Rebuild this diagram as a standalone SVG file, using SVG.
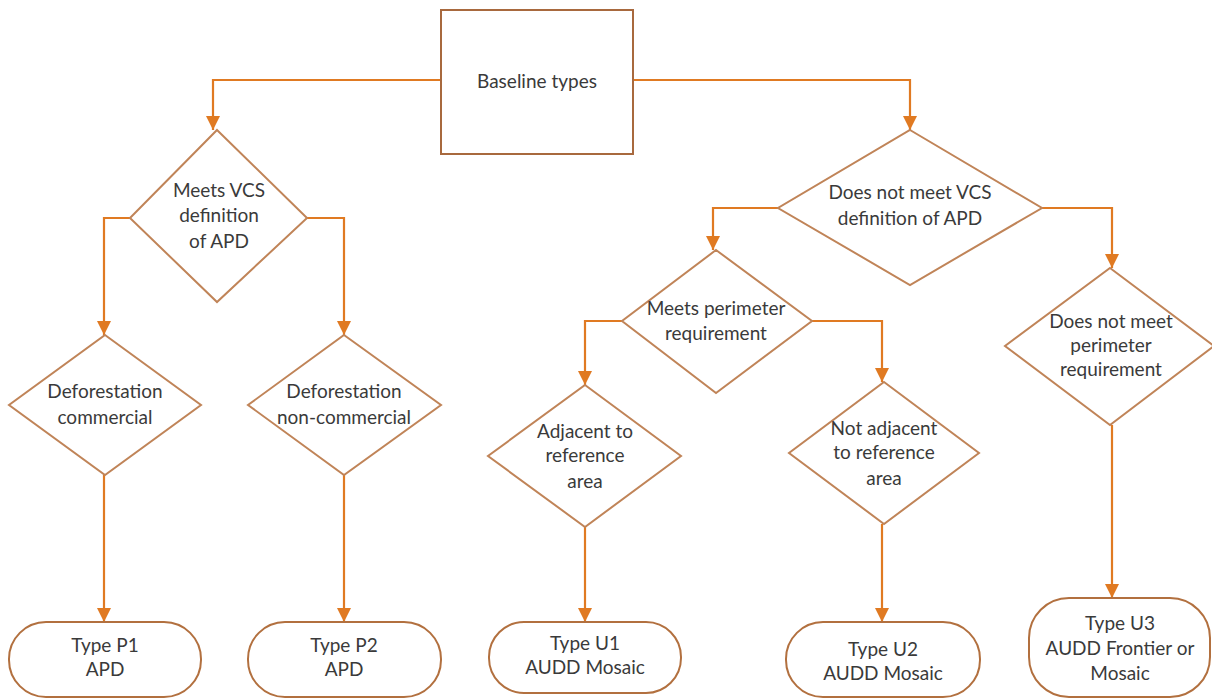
<svg xmlns="http://www.w3.org/2000/svg" width="1212" height="700" viewBox="0 0 1212 700">
<defs>
<marker id="arr" viewBox="0 0 14 14" refX="14" refY="7" markerWidth="14" markerHeight="14" markerUnits="userSpaceOnUse" orient="auto">
<path d="M0,0 L14,7 L0,14 Z" fill="#E07A22"/>
</marker>
</defs>
<style>
.shape{fill:#fff;stroke:#C08458;stroke-width:2}
.box{fill:#fff;stroke:#A8693E;stroke-width:2}
.term{fill:#fff;stroke:#B2703F;stroke-width:2}
.conn{fill:none;stroke:#E07A22;stroke-width:2.2;marker-end:url(#arr)}
text{font-family:Lato,"Liberation Sans",sans-serif;font-size:19px;fill:#3a3a3a;text-anchor:middle}
</style>
<rect width="1212" height="700" fill="#fff"/>
<g id="connectors">
<path class="conn" d="M441,80 H213 V130"/>
<path class="conn" d="M633,80 H910 V130"/>
<path class="conn" d="M130,218 H104 V335"/>
<path class="conn" d="M307,218 H344 V335"/>
<path class="conn" d="M104,475 V622"/>
<path class="conn" d="M344,475 V622"/>
<path class="conn" d="M778,208 H713 V250"/>
<path class="conn" d="M1042,208 H1112 V268"/>
<path class="conn" d="M622,321 H585 V385"/>
<path class="conn" d="M812,321 H882 V382"/>
<path class="conn" d="M585,527 V622"/>
<path class="conn" d="M882,524 V622"/>
<path class="conn" d="M1112,425 V598"/>
</g>
<g id="baseline">
<rect class="box" x="441" y="10" width="192" height="144"/>
<text x="537" y="88">Baseline types</text>
</g>
<g id="meets-vcs">
<polygon class="shape" points="217,130 307,218 217,302 130,218"/>
<text x="219" y="197">Meets VCS</text>
<text x="219" y="222">definition</text>
<text x="219" y="248">of APD</text>
</g>
<g id="not-meet-vcs">
<polygon class="shape" points="910,130 1042,208 910,285 778,208"/>
<text x="910" y="199">Does not meet VCS</text>
<text x="910" y="225">definition of APD</text>
</g>
<g id="def-commercial">
<polygon class="shape" points="105,335 201,405 105,475 9,405"/>
<text x="105" y="398">Deforestation</text>
<text x="105" y="424">commercial</text>
</g>
<g id="def-noncommercial">
<polygon class="shape" points="344,335 441,405 344,475 248,405"/>
<text x="344" y="398">Deforestation</text>
<text x="344" y="424">non-commercial</text>
</g>
<g id="meets-perimeter">
<polygon class="shape" points="716,250 812,321 716,393 622,321"/>
<text x="716" y="315">Meets perimeter</text>
<text x="716" y="340">requirement</text>
</g>
<g id="not-meet-perimeter">
<polygon class="shape" points="1110,268 1214,346 1110,425 1005,346"/>
<text x="1111" y="328">Does not meet</text>
<text x="1111" y="352">perimeter</text>
<text x="1111" y="376">requirement</text>
</g>
<g id="adjacent">
<polygon class="shape" points="585,385 681,456 585,527 488,456"/>
<text x="585" y="438">Adjacent to</text>
<text x="585" y="462">reference</text>
<text x="585" y="488">area</text>
</g>
<g id="not-adjacent">
<polygon class="shape" points="884,382 979,453 884,524 789,453"/>
<text x="884" y="435">Not adjacent</text>
<text x="884" y="459">to reference</text>
<text x="884" y="485">area</text>
</g>
<g id="type-p1">
<rect class="term" x="9" y="622" width="192" height="75" rx="37" ry="37"/>
<text x="105" y="652">Type P1</text>
<text x="105" y="676">APD</text>
</g>
<g id="type-p2">
<rect class="term" x="248" y="622" width="193" height="75" rx="37" ry="37"/>
<text x="344" y="652">Type P2</text>
<text x="344" y="676">APD</text>
</g>
<g id="type-u1">
<rect class="term" x="489" y="622" width="192" height="71" rx="35" ry="35"/>
<text x="585" y="650">Type U1</text>
<text x="585" y="674">AUDD Mosaic</text>
</g>
<g id="type-u2">
<rect class="term" x="786" y="622" width="194" height="75" rx="37" ry="37"/>
<text x="883" y="656">Type U2</text>
<text x="883" y="680">AUDD Mosaic</text>
</g>
<g id="type-u3">
<rect class="term" x="1029" y="598" width="181" height="99" rx="40" ry="40"/>
<text x="1120" y="630">Type U3</text>
<text x="1120" y="655">AUDD Frontier or</text>
<text x="1120" y="680">Mosaic</text>
</g>
</svg>
